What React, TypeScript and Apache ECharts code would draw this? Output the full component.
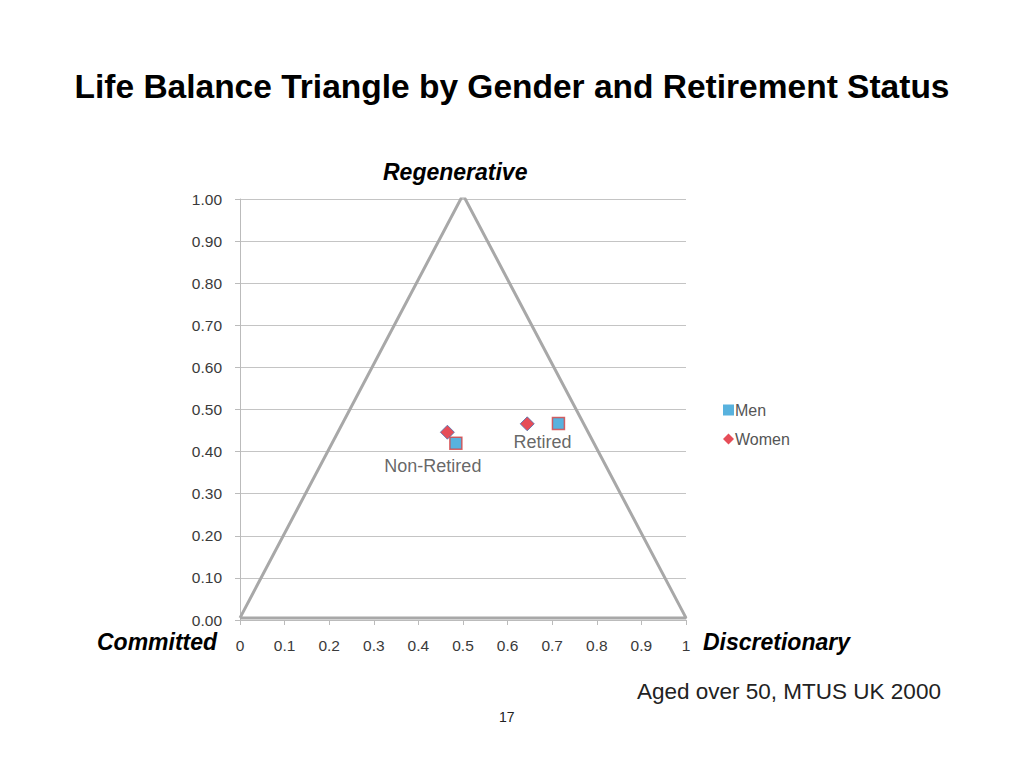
import React, { useEffect, useRef } from "react";
import * as echarts from "echarts";

const title = "Life Balance Triangle by Gender and Retirement Status";
const cornerLabels = ["Regenerative", "Committed", "Discretionary"];
const footnote = "Aged over 50, MTUS UK 2000";
const pageNumber = "17";

const triangle: [number, number][] = [
  [0, 0.005],
  [0.5, 1.01],
  [1, 0.005],
  [0, 0.005],
];
const groups = ["Non-Retired", "Retired"];
const menPoints: [number, number][] = [
  [0.484, 0.42],
  [0.714, 0.467],
];
const womenPoints: [number, number][] = [
  [0.465, 0.446],
  [0.644, 0.466],
];
const groupLabelOffsets: [number, number][] = [
  [-23, 2],
  [-16, -2],
];

export default function App() {
  const ref = useRef<HTMLDivElement>(null);
  useEffect(() => {
    if (!ref.current) return;
    const chart = echarts.init(ref.current, null, { renderer: "svg" });
    const axisFont = "'Liberation Sans', 'DejaVu Sans', sans-serif";
    const labelFont = "'Liberation Sans Narrow', 'Liberation Sans', sans-serif";
    const cornerStyle = {
      fontFamily: "'Liberation Sans', Arial, sans-serif",
      fontWeight: "bold",
      fontStyle: "italic",
      fontSize: 23,
      fill: "#000",
    };
    chart.setOption({
      animation: false,
      backgroundColor: "#ffffff",
      title: {
        text: title,
        left: "center",
        top: 64,
        textStyle: {
          fontFamily: "'Liberation Sans', Arial, sans-serif",
          fontWeight: "bold",
          fontSize: 33.5,
          color: "#000",
        },
      },
      grid: { left: 240, right: 338, top: 199, bottom: 148 },
      legend: {
        orient: "vertical",
        left: 718,
        top: 397,
        itemGap: 13,
        itemWidth: 11,
        itemHeight: 11,
        data: [
          { name: "Men", icon: "rect", itemStyle: { borderWidth: 0 } },
          { name: "Women", icon: "diamond", itemStyle: { borderWidth: 0 } },
        ],
        textStyle: { fontFamily: axisFont, fontSize: 16, color: "#555", padding: [0, 0, 0, -4] },
      },
      xAxis: {
        type: "value",
        min: 0,
        max: 1,
        interval: 0.1,
        axisLine: { show: true, lineStyle: { color: "#bbb", width: 1 } },
        axisTick: { show: true, length: 5, lineStyle: { color: "#bbb" } },
        splitLine: { show: false },
        axisLabel: {
          margin: 17,
          fontFamily: axisFont,
          fontSize: 15.5,
          color: "#3a3a3a",
          formatter: (v: number) => (v === 0 ? "0" : v === 1 ? "1" : v.toFixed(1)),
        },
      },
      yAxis: {
        type: "value",
        min: 0,
        max: 1,
        interval: 0.1,
        axisLine: { show: true, lineStyle: { color: "#bbb", width: 1 } },
        axisTick: { show: true, length: 5, lineStyle: { color: "#bbb" } },
        splitLine: { show: true, lineStyle: { color: "#c4c4c4", width: 1 } },
        axisLabel: {
          margin: 18,
          fontFamily: axisFont,
          fontSize: 15.5,
          color: "#3a3a3a",
          formatter: (v: number) => v.toFixed(2),
        },
      },
      series: [
        {
          name: "Triangle",
          type: "line",
          data: triangle,
          showSymbol: false,
          symbol: "none",
          lineStyle: { color: "#a8a8a8", width: 3 },
          z: 1,
        },
        {
          name: "Men",
          type: "scatter",
          symbol: "rect",
          symbolSize: 12,
          itemStyle: { color: "#2e9fd6", borderColor: "#d84040", borderWidth: 1.5 },
          data: menPoints.map((p, i) => ({
            value: p,
            label: {
              show: true,
              position: "bottom",
              formatter: groups[i],
              offset: groupLabelOffsets[i],
              fontFamily: labelFont,
              fontSize: 18,
              color: "#404040",
            },
          })),
          z: 3,
        },
        {
          name: "Women",
          type: "scatter",
          symbol: "diamond",
          symbolSize: 14,
          itemStyle: { color: "#e0202e", borderColor: "#4a6fb0", borderWidth: 1 },
          data: womenPoints,
          z: 4,
        },
      ],
      graphic: [
        { type: "text", left: 383, top: 160, style: { ...cornerStyle, text: cornerLabels[0] } },
        { type: "text", left: 97, top: 630, style: { ...cornerStyle, text: cornerLabels[1] } },
        { type: "text", left: 703, top: 630, style: { ...cornerStyle, text: cornerLabels[2] } },
        {
          type: "text",
          left: 637,
          top: 680,
          style: {
            text: footnote,
            fontFamily: "'Liberation Sans', Arial, sans-serif",
            fontSize: 22.5,
            fill: "#222",
          },
        },
        {
          type: "text",
          left: 499,
          top: 710,
          style: {
            text: pageNumber,
            fontFamily: "'Liberation Sans', Arial, sans-serif",
            fontSize: 14,
            fill: "#222",
          },
        },
      ],
    });
    return () => chart.dispose();
  }, []);
  return (
    <div
      ref={ref}
      style={{ position: "fixed", left: 0, top: 0, width: 1024, height: 768 }}
    />
  );
}
